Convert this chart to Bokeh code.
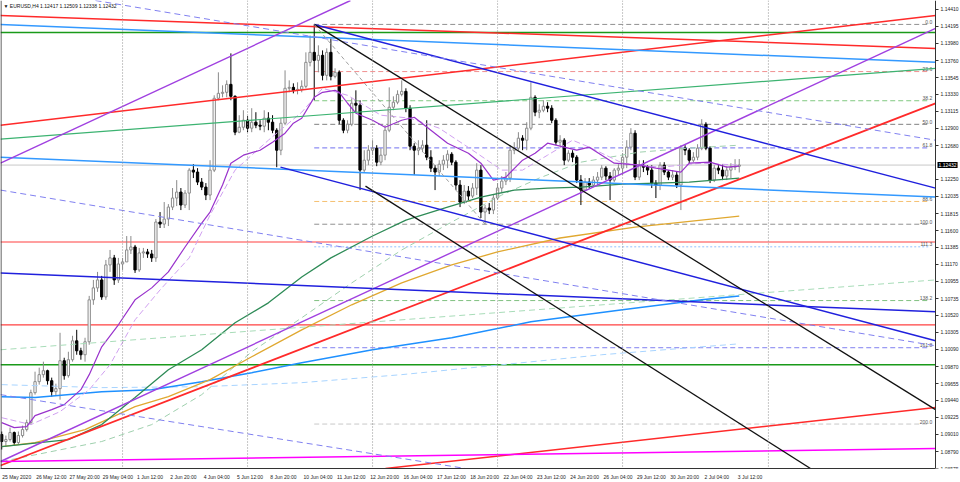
from bokeh.plotting import figure
from bokeh.models import Range1d, FixedTicker, PrintfTickFormatter, Span, Label
from bokeh.embed import file_html
from bokeh.resources import INLINE
from bokeh.core.properties import value

# ---------------- data ----------------
open_first = 1.09007
closes = [1.08918,1.08943,1.09032,1.08905,1.08994,1.09070,1.09158,1.09539,1.09679,1.09768,
1.09818,1.09691,1.09552,1.09590,1.09945,1.09755,1.09958,1.10198,1.10071,1.10021,
1.10186,1.10719,1.10871,1.10972,1.10756,1.11163,1.11252,1.10972,1.11175,1.11201,
1.11353,1.11391,1.11099,1.11315,1.11328,1.11302,1.11252,1.11708,1.11682,1.11746,
1.11898,1.12013,1.12089,1.11924,1.12076,1.12368,1.12343,1.12216,1.12152,1.12051,
1.12368,1.13281,1.13344,1.13357,1.13458,1.13306,1.12850,1.12913,1.13002,1.12901,
1.12977,1.12939,1.12926,1.13028,1.12977,1.12875,1.12621,1.12964,1.13408,1.13420,
1.13382,1.13395,1.13433,1.13738,1.13865,1.13763,1.13827,1.13573,1.13865,1.13560,
1.13611,1.13002,1.12875,1.12951,1.13218,1.13193,1.12368,1.12494,1.12621,1.12647,
1.12469,1.12558,1.12875,1.13167,1.13231,1.13331,1.13369,1.13155,1.12672,1.12621,
1.12647,1.12685,1.12532,1.12393,1.12343,1.12443,1.12494,1.12570,1.12469,1.12178,
1.11962,1.12101,1.12038,1.12140,1.12368,1.11835,1.11886,1.11860,1.12013,1.12140,
1.12228,1.12267,1.12621,1.12647,1.12774,1.12748,1.12901,1.13293,1.13104,1.13129,
1.13180,1.13155,1.13002,1.12723,1.12748,1.12494,1.12583,1.12532,1.12241,1.12114,
1.12216,1.12178,1.12241,1.12279,1.12393,1.12292,1.12241,1.12368,1.12393,1.12532,
1.12660,1.12837,1.12279,1.12431,1.12405,1.12368,1.12203,1.12178,1.12431,1.12343,
1.12279,1.12305,1.12178,1.12647,1.12621,1.12494,1.12532,1.12647,1.12951,1.12647,
1.12241,1.12393,1.12368,1.12292,1.12368,1.12405,1.12417,1.12432]
highs = [1.09045,1.08994,1.09095,1.09045,1.09045,1.09120,1.09196,1.09577,1.09806,1.09857,
1.09933,1.09831,1.09730,1.09653,1.10300,1.09983,1.10059,1.10262,1.10338,1.10110,
1.10237,1.10769,1.10972,1.11074,1.11023,1.11226,1.11353,1.11290,1.11252,1.11252,
1.11530,1.11530,1.11417,1.11379,1.11379,1.11366,1.11353,1.11746,1.11835,1.11962,
1.11936,1.12140,1.12241,1.12140,1.12114,1.12393,1.12443,1.12393,1.12267,1.12203,
1.12494,1.13319,1.13611,1.13446,1.13509,1.13852,1.13319,1.13066,1.13129,1.13053,
1.13155,1.13104,1.13002,1.13129,1.13104,1.13066,1.12901,1.13028,1.13636,1.13509,
1.13471,1.13484,1.13509,1.13865,1.14080,1.14220,1.13954,1.13890,1.13916,1.14042,
1.13662,1.13636,1.13028,1.13002,1.13281,1.13382,1.13256,1.12621,1.12685,1.12748,
1.12685,1.12647,1.12939,1.13420,1.13306,1.13382,1.13509,1.13408,1.13193,1.12710,
1.12748,1.12748,1.13002,1.12621,1.12431,1.12494,1.12558,1.12621,1.12596,1.12494,
1.12241,1.12178,1.12165,1.12203,1.12456,1.12431,1.11924,1.11949,1.12051,1.12203,
1.12292,1.12343,1.12685,1.12723,1.12850,1.12812,1.12977,1.13484,1.13319,1.13205,
1.13256,1.13231,1.13193,1.13028,1.12812,1.12774,1.12621,1.12621,1.12558,1.12305,
1.12267,1.12267,1.12292,1.12343,1.12431,1.12418,1.12343,1.12393,1.12443,1.12583,
1.12748,1.12901,1.12875,1.12494,1.12494,1.12431,1.12431,1.12241,1.12469,1.12469,
1.12368,1.12368,1.12343,1.12685,1.12685,1.12647,1.12596,1.12697,1.13015,1.12977,
1.12672,1.12431,1.12431,1.12443,1.12418,1.12456,1.12507,1.12509]
lows = [1.08816,1.08854,1.08918,1.08867,1.08880,1.08969,1.09045,1.09133,1.09514,1.09641,
1.09730,1.09641,1.09488,1.09501,1.09450,1.09704,1.09730,1.09933,1.10021,1.09958,
1.09933,1.10148,1.10656,1.10820,1.10719,1.10719,1.11074,1.10909,1.10934,1.11099,
1.11201,1.11302,1.11061,1.11074,1.11252,1.11252,1.11201,1.11201,1.11632,1.11632,
1.11657,1.11860,1.11911,1.11860,1.11886,1.11860,1.12267,1.12178,1.12114,1.11987,
1.11987,1.12343,1.13256,1.13293,1.13293,1.13256,1.12812,1.12837,1.12875,1.12850,
1.12850,1.12901,1.12875,1.12850,1.12875,1.12837,1.12405,1.12558,1.12939,1.13357,
1.13344,1.13331,1.13357,1.13408,1.13687,1.13256,1.13611,1.13509,1.13509,1.13509,
1.13535,1.12951,1.12837,1.12837,1.12926,1.13104,1.12114,1.12343,1.12431,1.12558,
1.12418,1.12431,1.12494,1.12850,1.13129,1.13205,1.13306,1.13104,1.12621,1.12305,
1.12558,1.12596,1.12494,1.12343,1.12114,1.12292,1.12368,1.12393,1.12431,1.12114,
1.11898,1.11936,1.11987,1.12013,1.12051,1.11759,1.11680,1.11809,1.11809,1.11987,
1.12089,1.12178,1.12216,1.12570,1.12621,1.12621,1.12621,1.12875,1.13053,1.13028,
1.13104,1.13104,1.12964,1.12685,1.12672,1.12431,1.12469,1.12469,1.12203,1.11924,
1.12114,1.12140,1.12152,1.12178,1.12241,1.12241,1.11987,1.12216,1.12305,1.12305,
1.12393,1.12621,1.12241,1.12241,1.12343,1.12305,1.12140,1.12013,1.12114,1.12305,
1.12241,1.12241,1.12140,1.11860,1.12558,1.12456,1.12469,1.12494,1.12621,1.12621,
1.12203,1.12216,1.12317,1.12241,1.12241,1.12267,1.12368,1.12338]

time_tick_bars = [0, 8, 16, 24, 32, 40, 48, 56, 64, 72, 80, 88, 96, 104, 112, 120, 128, 136, 144, 152, 160, 168, 176]
time_tick_labels = ["25 May 2020", "26 May 12:00", "27 May 20:00", "29 May 04:00", "1 Jun 12:00",
                    "2 Jun 20:00", "4 Jun 04:00", "5 Jun 12:00", "8 Jun 20:00", "10 Jun 04:00",
                    "11 Jun 12:00", "12 Jun 20:00", "16 Jun 04:00", "17 Jun 12:00", "18 Jun 20:00",
                    "22 Jun 04:00", "23 Jun 12:00", "24 Jun 20:00", "26 Jun 04:00", "29 Jun 12:00",
                    "30 Jun 20:00", "2 Jul 04:00", "3 Jul 12:00"]
price_ticks = [1.14410, 1.14195, 1.13980, 1.13760, 1.13545, 1.13330, 1.13115, 1.12900, 1.12680,
               1.12250, 1.12035, 1.11815, 1.11600, 1.11385, 1.11170, 1.10955, 1.10735, 1.10520,
               1.10305, 1.10090, 1.09870, 1.09655, 1.09440, 1.09225, 1.09010, 1.08790, 1.08575]
week_separators = [29, 59, 89, 119, 149, 184]
last_price = 1.12432
title_text = "\u25BC EURUSD,H4  1.12417 1.12509 1.12338 1.12432"

# chart window in bar / price units
first_bar_edge = -0.29
last_visible_bar = 224.1   # where the price scale sits
bar_window_end = 230.1
price_low, price_high = 1.08575, 1.14524

# moving averages (bar index, price)
ma_purple_bar = [0,3,6,8,12,15,19,21,24,28,32,36,40,44,48,50,53,55,58,62,65,68,70,72,75,77,80,81,83,85,89,92,96,99,103,107,112,115,118,121,125,128,131,135,138,141,147,153,157,163,165,170,174,177]
ma_purple_val = [1.09158,1.09095,1.09107,1.09247,1.09323,1.09387,1.09577,1.09768,1.10122,1.10402,1.10719,1.10871,1.11074,1.11391,1.11695,1.11835,1.12178,1.12456,1.12558,1.12621,1.12723,1.12837,1.12964,1.13028,1.13293,1.13357,1.13382,1.13357,1.13218,1.13091,1.13002,1.12913,1.13002,1.13040,1.12875,1.12710,1.12583,1.12456,1.12241,1.12279,1.12494,1.12583,1.12710,1.12660,1.12621,1.12660,1.12456,1.12431,1.12393,1.12343,1.12456,1.12469,1.12405,1.12418]
ma_lilac_bar = [0,7,14,21,26,32,38,45,50,56,64,72,77,83,91,98,105,113,120,125,131,137,141,149,158,168,177]
ma_lilac_val = [1.09221,1.09133,1.09298,1.09577,1.09894,1.10465,1.10845,1.11252,1.11797,1.12368,1.12748,1.13104,1.13408,1.13319,1.13066,1.13028,1.12901,1.12621,1.12368,1.12368,1.12558,1.12748,1.12660,1.12456,1.12405,1.12456,1.12431]
ma_green_bar = [0,16,24,32,40,48,56,64,72,79,89,97,107,115,123,131,139,149,165,177]
ma_green_val = [1.08854,1.08943,1.09133,1.09476,1.09831,1.10084,1.10427,1.10681,1.11010,1.11252,1.11530,1.11733,1.11898,1.12025,1.12114,1.12140,1.12152,1.12190,1.12216,1.12267]
ma_orange_bar = [0,8,20,32,40,50,60,72,84,96,108,119,134,152,177]
ma_orange_val = [1.08854,1.08905,1.09070,1.09361,1.09488,1.09704,1.09996,1.10338,1.10656,1.10934,1.11163,1.11328,1.11505,1.11644,1.11784]
ma_blue_bar = [0,8,24,36,48,60,72,89,108,127,149,168,177]
ma_blue_val = [1.09488,1.09476,1.09552,1.09577,1.09679,1.09793,1.09920,1.10084,1.10237,1.10440,1.10592,1.10719,1.10769]
ma_palegreen_bar = [0,24,36,48,60,72,84,96,108,120,129,139,153,165,177]
ma_palegreen_val = [1.08664,1.08918,1.09133,1.09514,1.10059,1.10491,1.10934,1.11353,1.11708,1.12051,1.12267,1.12469,1.12596,1.12647,1.12685]
ma_skyblue_bar = [0,24,48,72,96,120,144,168,177]
ma_skyblue_val = [1.09641,1.09603,1.09615,1.09666,1.09768,1.09894,1.10021,1.10122,1.10160]

# trend lines: start bar, start price, end bar, end price
trend_x0 = [-0.29, -0.29, -0.29, 92.1, -0.29, -0.29, -0.29, -0.29, -0.29, -0.29, -0.29, 75, 66.9, -0.29, 22.5, -0.29, -0.29, 75, 87.3, 75]
trend_y0 = [1.14334, 1.12938, 1.08613, 1.08575, 1.14220, 1.12532, 1.12761, 1.10084, 1.08664, 1.12456, 1.08664, 1.14220, 1.12406, 1.11061, 1.14524, 1.12114, 1.09514, 1.14220, 1.12165, 1.14220]
trend_x1 = [224.1, 224.1, 224.1, 224.1, 224.1, 224.1, 224.1, 224.1, 224.1, 83.7, 224.1, 224.1, 224.1, 224.1, 224.1, 224.1, 111.3, 224.1, 194.1, 116]
trend_y1 = [1.13915, 1.14334, 1.13217, 1.09349, 1.13738, 1.12025, 1.13661, 1.10972, 1.08829, 1.14524, 1.14169, 1.12139, 1.10198, 1.10566, 1.12748, 1.10135, 1.08575, 1.09323, 1.08575, 1.11680]

# horizontal levels
level_prices = [1.14118, 1.09894, 1.11454, 1.10401]

# fibonacci
fib_high = 1.14220
fib_low = 1.11680
fib_start_bar = 75
fib_end_bar = 222.6
fib_ratios = [0.0, 23.6, 38.2, 50.0, 61.8, 88.6, 100.0, 111.3, 138.2, 161.8, 200.0]
fib_labels = ["0.0", "23.6", "38.2", "50.0", "61.8", "88.6", "100.0", "111.3", "138.2", "161.8", "200.0"]

# ---------------- styles ----------------
trend_styles = [
    ("#ff2a2a", 1.5, "solid"), ("#ff2a2a", 1.5, "solid"), ("#ff2a2a", 1.8, "solid"), ("#ff2a2a", 1.5, "solid"),
    ("#3399ff", 1.5, "solid"), ("#3399ff", 1.5, "solid"), ("#3cb371", 1.2, "solid"), ("#a8dcb8", 1.0, "6 4"),
    ("#ff00ff", 1.5, "solid"), ("#a040e0", 1.4, "solid"), ("#a040e0", 1.4, "solid"), ("#2020dd", 1.5, "solid"),
    ("#2020dd", 1.5, "solid"), ("#2020dd", 1.5, "solid"), ("#8080f0", 1.0, "6 4"), ("#8080f0", 1.0, "6 4"),
    ("#8080f0", 1.0, "6 4"), ("#111111", 1.3, "solid"), ("#111111", 1.3, "solid"), ("#a0a0a0", 1.0, "4 3"),
]
level_styles = [("#1a9a1a", 1.5), ("#1a9a1a", 1.5), ("#ff4040", 1.2), ("#ff4040", 1.2)]
fib_styles = [("#909090", "5 3"), ("#f09090", "5 3"), ("#80c880", "5 3"), ("#808080", "5 3"),
              ("#7070f0", "5 3"), ("#f5c070", "5 3"), ("#909090", "5 3"), ("#90c0ff", "2 2"),
              ("#80c080", "5 3"), ("#8080f0", "5 3"), ("#c8c8c8", "5 3")]

FONT = "Liberation Sans"
FS = "5px"
CHAR_HALF_BARS = 0.305   # half the width of one label character, in bars (labels sit right of their time)

p = figure(width=960, height=482, x_range=Range1d(first_bar_edge, bar_window_end),
           y_range=Range1d(price_low, price_high),
           y_axis_location="right", output_backend="svg", toolbar_location=None,
           min_border_left=0, min_border_top=0, min_border_right=0, min_border_bottom=13,
           background_fill_color="white", border_fill_color="white")
p.xgrid.visible = False
p.ygrid.visible = False
p.outline_line_color = None

# axes: time labels are left-aligned at their bar, so centre them half a label to the right
label_pos = [round(b + 0.25 + len(t) * CHAR_HALF_BARS, 2) for b, t in zip(time_tick_bars, time_tick_labels)]
p.xaxis.ticker = FixedTicker(ticks=label_pos)
p.xaxis.major_label_overrides = {pos: t for pos, t in zip(label_pos, time_tick_labels)}
p.xaxis.bounds = (first_bar_edge, last_visible_bar)
p.yaxis.ticker = FixedTicker(ticks=price_ticks)
p.yaxis.formatter = PrintfTickFormatter(format="%.5f")
p.yaxis.fixed_location = last_visible_bar
for ax in (p.xaxis[0], p.yaxis[0]):
    ax.major_label_text_font = FONT
    ax.major_label_text_font_size = FS
    ax.major_label_text_color = "#222222"
    ax.major_tick_out = 3
    ax.major_tick_in = 0
    ax.minor_tick_out = 0
    ax.minor_tick_in = 0
    ax.major_label_standoff = 2
    ax.axis_line_color = "#333333"
    ax.major_tick_line_color = "#333333"
p.xaxis.major_tick_line_color = None

# left border of the chart window
p.add_layout(Span(location=first_bar_edge + 0.12, dimension="height", line_color="#333333", line_width=1))

# separators
for b in week_separators:
    p.add_layout(Span(location=b, dimension="height", line_color="#909090", line_dash="1 2", line_width=1))

# bid line
p.line([first_bar_edge, last_visible_bar], [last_price, last_price], line_color="#c8c8c8", line_width=1)

# horizontal levels
for lv, (c, w) in zip(level_prices, level_styles):
    p.line([first_bar_edge, last_visible_bar], [lv, lv], line_color=c, line_width=w)

# fibonacci levels
fib_prices = [fib_high - r / 100.0 * (fib_high - fib_low) for r in fib_ratios]
for fp, (c, d) in zip(fib_prices, fib_styles):
    p.line([fib_start_bar, fib_end_bar], [fp, fp], line_color=c, line_dash=d, line_width=1)
p.text(x=[fib_end_bar + 0.7] * len(fib_prices), y=fib_prices, text=fib_labels,
       text_align="right", text_baseline="bottom", text_font=value(FONT),
       text_font_size=FS, text_color="#555555", y_offset=-0.5)

# candles
opens = [open_first] + closes[:-1]
xs = list(range(len(closes)))
bull = [c >= o for o, c in zip(opens, closes)]
bx = [x for x, b in zip(xs, bull) if b]
sx = [x for x, b in zip(xs, bull) if not b]
def sel(arr, flag):
    return [a for a, b in zip(arr, bull) if b == flag]
p.segment(x0=bx, y0=sel(lows, True), x1=bx, y1=sel(highs, True), line_color="#8a8a8a", line_width=1)
p.segment(x0=sx, y0=sel(lows, False), x1=sx, y1=sel(highs, False), line_color="#000000", line_width=1)
tops = [max(o, c) for o, c in zip(opens, closes)]
bots = [min(o, c) for o, c in zip(opens, closes)]
p.vbar(x=bx, top=sel(tops, True), bottom=sel(bots, True), width=0.55,
       fill_color="white", line_color="#8a8a8a", line_width=1)
p.vbar(x=sx, top=sel(tops, False), bottom=sel(bots, False), width=0.55,
       fill_color="black", line_color="black", line_width=1)

# moving averages
p.line(ma_skyblue_bar, ma_skyblue_val, line_color="#a8d4ff", line_dash="6 4", line_width=1)
p.line(ma_palegreen_bar, ma_palegreen_val, line_color="#9fd0ae", line_dash="6 4", line_width=1)
p.line(ma_blue_bar, ma_blue_val, line_color="#1e90ff", line_width=1.5)
p.line(ma_orange_bar, ma_orange_val, line_color="#e0a830", line_width=1.3)
p.line(ma_green_bar, ma_green_val, line_color="#2e8b57", line_width=1.3)
p.line(ma_lilac_bar, ma_lilac_val, line_color="#d0a0f0", line_dash="6 3", line_width=1)
p.line(ma_purple_bar, ma_purple_val, line_color="#9932cc", line_width=1.2)

# trend lines
for x0, y0, x1, y1, (c, w, d) in zip(trend_x0, trend_y0, trend_x1, trend_y1, trend_styles):
    p.line([x0, x1], [y0, y1], line_color=c, line_width=w, line_dash=d)

# title and price box
p.add_layout(Label(x=first_bar_edge, y=price_high, x_offset=3, y_offset=-2, text=title_text,
                   text_baseline="top", text_font=FONT, text_font_size=FS, text_color="#111111"))
price_box = Label(x=last_visible_bar, y=last_price, x_offset=2, text="%.5f" % last_price,
                  text_baseline="middle", text_align="left", text_font=FONT,
                  text_font_size=FS, text_color="white", background_fill_color="black")
if "padding" in Label.properties():
    price_box.padding = 1
p.add_layout(price_box)

open("out.html", "w").write(file_html(p, INLINE))
